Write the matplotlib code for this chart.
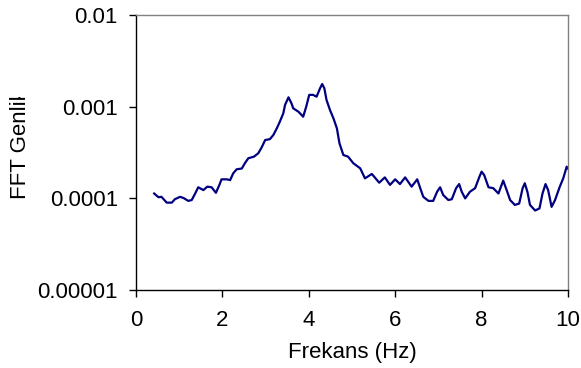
import matplotlib
matplotlib.use("Agg")
import matplotlib.pyplot as plt
from matplotlib.transforms import Bbox, TransformedBbox

# values
freq = [0.42, 0.52, 0.59, 0.71, 0.83, 0.90, 1.02, 1.10, 1.21, 1.29, 1.37, 1.44,
        1.56, 1.65, 1.75, 1.85, 1.93, 1.98, 2.10, 2.18, 2.25, 2.33, 2.45, 2.52,
        2.60, 2.73, 2.83, 2.91, 2.99, 3.10, 3.18, 3.26, 3.33, 3.41, 3.45, 3.53,
        3.60, 3.64, 3.76, 3.87, 3.94, 4.01, 4.10, 4.18, 4.26, 4.31, 4.36, 4.41,
        4.49, 4.57, 4.65, 4.71, 4.80, 4.91, 5.03, 5.19, 5.30, 5.46, 5.63, 5.76,
        5.88, 6.00, 6.11, 6.23, 6.38, 6.51, 6.59, 6.65, 6.77, 6.88, 6.97, 7.04,
        7.11, 7.23, 7.31, 7.41, 7.48, 7.54, 7.62, 7.73, 7.85, 7.95, 8.00, 8.06,
        8.16, 8.27, 8.39, 8.50, 8.58, 8.66, 8.77, 8.87, 8.95, 9.00, 9.06, 9.12,
        9.24, 9.34, 9.41, 9.48, 9.54, 9.62, 9.70, 9.81, 9.89, 9.97, 10.0]
amp = [1.12e-4, 1.02e-4, 1.03e-4, 0.89e-4, 0.89e-4, 0.97e-4, 1.03e-4, 1.00e-4,
       0.93e-4, 0.95e-4, 1.12e-4, 1.31e-4, 1.22e-4, 1.33e-4, 1.31e-4, 1.14e-4,
       1.39e-4, 1.60e-4, 1.60e-4, 1.57e-4, 1.86e-4, 2.06e-4, 2.10e-4, 2.40e-4,
       2.72e-4, 2.83e-4, 3.08e-4, 3.58e-4, 4.30e-4, 4.40e-4, 4.89e-4, 5.78e-4,
       6.83e-4, 8.43e-4, 1.04e-3, 1.26e-3, 1.08e-3, 0.955e-3, 0.877e-3, 0.774e-3,
       0.995e-3, 1.34e-3, 1.34e-3, 1.28e-3, 1.58e-3, 1.76e-3, 1.58e-3, 1.18e-3,
       0.916e-3, 0.743e-3, 0.578e-3, 0.396e-3, 0.295e-3, 0.283e-3, 0.240e-3,
       0.211e-3, 0.164e-3, 0.183e-3, 0.147e-3, 0.168e-3, 0.139e-3, 0.160e-3,
       0.142e-3, 0.168e-3, 0.133e-3, 0.160e-3, 0.124e-3, 0.103e-3, 0.093e-3,
       0.093e-3, 0.117e-3, 0.131e-3, 0.108e-3, 0.095e-3, 0.097e-3, 0.128e-3,
       0.142e-3, 0.117e-3, 0.099e-3, 0.117e-3, 0.128e-3, 0.171e-3, 0.194e-3,
       0.178e-3, 0.131e-3, 0.128e-3, 0.112e-3, 0.155e-3, 0.122e-3, 0.095e-3,
       0.084e-3, 0.087e-3, 0.128e-3, 0.145e-3, 0.117e-3, 0.084e-3, 0.073e-3,
       0.077e-3, 0.112e-3, 0.142e-3, 0.122e-3, 0.080e-3, 0.095e-3, 0.133e-3,
       0.164e-3, 0.220e-3, 0.210e-3]

xticks = [0, 2, 4, 6, 8, 10]
yticks = [1e-5, 1e-4, 1e-3, 1e-2]
ytick_labels = ["0.00001", "0.0001", "0.001", "0.01"]

plt.rcParams['font.family'] = ['Liberation Sans', 'DejaVu Sans']

W, H = 581, 368
fig = plt.figure(figsize=(W / 100, H / 100), dpi=100)
ax = fig.add_axes([136 / W, 1 - 289.5 / H, (568 - 136) / W, (289.5 - 15) / H])

ax.plot(freq, amp, color='#000080', lw=1.6)

ax.set_yscale('log')
ax.set_xlim(0, 10)
ax.set_ylim(1e-5, 1e-2)
ax.set_xticks(xticks)
ax.set_yticks(yticks)
ax.set_yticklabels(ytick_labels)
ax.minorticks_off()
ax.tick_params(direction='out', length=5, width=1, labelsize=16, pad=8, colors='black')
ax.tick_params(axis='x', pad=10)

for s in ['top', 'right']:
    ax.spines[s].set_color('#808080')
for s in ax.spines.values():
    s.set_linewidth(1)

ax.set_xlabel('Frekans (Hz)', fontsize=16, labelpad=8)

# y label is clipped at the top in the original
ylab = fig.text(21 / W, 1 - 144 / H, 'FFT Genlik', rotation=90, fontsize=16,
                ha='center', va='center')
ylab.set_clip_box(TransformedBbox(Bbox([[0, 0], [1, 1 - 97 / H]]), fig.transFigure))
ylab.set_clip_on(True)

fig.savefig('out.png', dpi=100)
